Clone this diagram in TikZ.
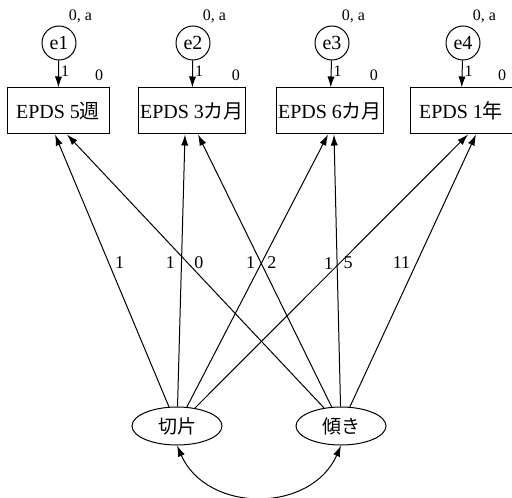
\documentclass[tikz,border=0pt]{standalone}
\usepackage{fontspec}
\setmainfont{Liberation Serif}
\newfontfamily\jp{Noto Sans CJK JP}
\usetikzlibrary{arrows.meta, shapes.geometric}

\begin{document}
\begin{tikzpicture}[x=0.5pt, y=-0.5pt, line width=0.5pt,
                    err/.style={circle, draw, minimum size=17pt, inner sep=0pt, font=\fontsize{10}{12}\selectfont},
                    obs/.style={rectangle, draw, minimum width=51pt, minimum height=23pt, inner sep=1pt, font=\fontsize{10}{12}\selectfont},
                    latent/.style={ellipse, draw, minimum width=45pt, minimum height=19pt, inner sep=0pt, font=\jp\fontsize{9.5}{11}\selectfont},
                    path/.style={-{Latex[length=5.5pt, width=3.6pt]}},
                    cov/.style={{Latex[length=5.5pt, width=3.6pt]}-{Latex[length=5.5pt, width=3.6pt]}},
                    small/.style={font=\fontsize{8}{9}\selectfont, inner sep=1pt},
                    coef/.style={font=\fontsize{9}{10}\selectfont, inner sep=3pt}]

    \useasboundingbox (0,0) rectangle (512,497);

    % error terms
    \node[err] (e1) at (59,43)  {e1};
    \node[err] (e2) at (193,43) {e2};
    \node[err] (e3) at (332,43) {e3};
    \node[err] (e4) at (463,43) {e4};

    % observed scores
    \node[obs] (b1) at (58,111)  {EPDS 5{\jp 週}};
    \node[obs] (b2) at (192,111) {EPDS 3{\jp カ月}};
    \node[obs] (b3) at (330,111) {EPDS 6{\jp カ月}};
    \node[obs] (b4) at (461,111) {EPDS 1{\jp 年}};

    % latent growth factors
    \node[latent] (int)   at (177,426) {切片};
    \node[latent] (slope) at (341,426) {傾き};

    % means and variances of the errors
    \node[small, anchor=south west] (v1) at ([xshift=-2.5pt, yshift=2.5pt]e1.north east) {0, a};
    \node[small, anchor=south west] (v2) at ([xshift=-2.5pt, yshift=2.5pt]e2.north east) {0, a};
    \node[small, anchor=south west] (v3) at ([xshift=-2.5pt, yshift=2.5pt]e3.north east) {0, a};
    \node[small, anchor=south west] (v4) at ([xshift=-2.5pt, yshift=2.5pt]e4.north east) {0, a};

    % intercepts of the observed scores
    \node[small, anchor=south east] (m1) at ([xshift=-2pt, yshift=2pt]b1.north east) {0};
    \node[small, anchor=south east] (m2) at ([xshift=-2pt, yshift=2pt]b2.north east) {0};
    \node[small, anchor=south east] (m3) at ([xshift=-2pt, yshift=2pt]b3.north east) {0};
    \node[small, anchor=south east] (m4) at ([xshift=-2pt, yshift=2pt]b4.north east) {0};

    \draw[path] (e1) -- node[small, right, pos=0.4] {1} (b1);
    \draw[path] (e2) -- node[small, right, pos=0.4] {1} (b2);
    \draw[path] (e3) -- node[small, right, pos=0.4] {1} (b3);
    \draw[path] (e4) -- node[small, right, pos=0.4] {1} (b4);

    % intercept loadings
    \draw[path] (int) -- node[coef, right, pos=0.53] {1} ([xshift=-1.5pt]b1.south);
    \draw[path] (int) -- node[coef, left, pos=0.53] {1} ([xshift=-3.5pt]b2.south);
    \draw[path] (int) -- node[coef, left, pos=0.53] {1} ([xshift=-1pt]b3.south);
    \draw[path] (int) -- node[coef, left, pos=0.53] {1} ([xshift=3.5pt]b4.south);

    % slope loadings
    \draw[path] (slope) -- node[coef, right, pos=0.53] {0} ([xshift=4.5pt]b1.south);
    \draw[path] (slope) -- node[coef, right, pos=0.53] {2} ([xshift=3pt]b2.south);
    \draw[path] (slope) -- node[coef, right, pos=0.53] {5} ([xshift=2pt]b3.south);
    \draw[path] (slope) -- node[coef, left, pos=0.53] {11} ([xshift=7.5pt]b4.south);

    \draw[cov] (int.south) .. controls +(30,68) and +(-30,68) .. (slope.south);
\end{tikzpicture}
\end{document}
